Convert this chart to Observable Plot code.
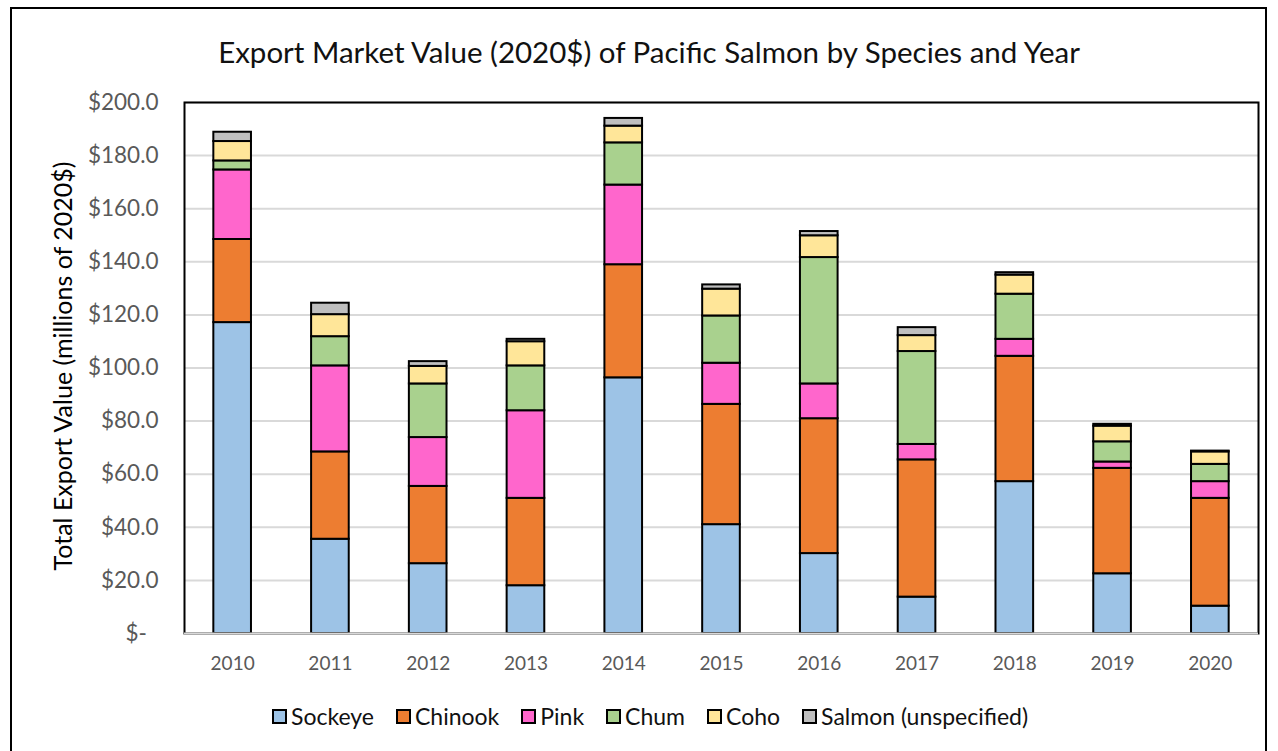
<!DOCTYPE html>
<html>
<head>
<meta charset="utf-8">
<script src="https://cdn.jsdelivr.net/npm/d3@7"></script>
<script src="https://cdn.jsdelivr.net/npm/@observablehq/plot@0.6"></script>
<style>
  html, body { margin: 0; padding: 0; background: #fff; }
  body { width: 1278px; height: 751px; position: relative; overflow: hidden; font-family: Lato, "Open Sans", sans-serif; }
  #border { position: absolute; left: 10px; top: 7px; width: 1257px; height: 760px; border: 2px solid #000; box-sizing: border-box; }
  #title { position: absolute; left: 20px; width: 1258px; top: 34px; text-align: center; font-size: 29.5px; color: #111; white-space: nowrap; }
  #ylabel { position: absolute; left: 62px; top: 366px; transform: translate(-50%, -50%) rotate(-90deg); font-size: 25px; color: #000; white-space: nowrap; }
  #chart { position: absolute; left: 0; top: 80px; }
  #legend { position: absolute; left: 272px; top: 702px; display: flex; align-items: center; font-size: 23px; color: #111; white-space: nowrap; }
  .item { display: flex; align-items: center; margin-right: 22px; }
  .sw { width: 11px; height: 11px; border: 2px solid #000; margin-right: 4px; }
</style>
</head>
<body>
<div id="border"></div>
<div id="title">Export Market Value (2020$) of Pacific Salmon by Species and Year</div>
<div id="ylabel">Total Export Value (millions of 2020$)</div>
<div id="chart"></div>
<div id="legend"></div>
<script>
const years = ["2010","2011","2012","2013","2014","2015","2016","2017","2018","2019","2020"];
const species = ["Sockeye","Chinook","Pink","Chum","Coho","Salmon (unspecified)"];
const colors = ["#9DC3E6","#ED7D31","#FF66CC","#A9D18E","#FFE699","#BFBFBF"];
const sockeye     = [117.1, 35.5, 26.3, 18.0, 96.3, 41.0, 30.1, 13.7, 57.2, 22.5, 10.3];
const chinook     = [31.3, 32.9, 29.1, 32.9, 42.6, 45.3, 50.8, 51.7, 47.2, 39.7, 40.6];
const pink        = [26.2, 32.4, 18.4, 33.0, 30.0, 15.5, 13.1, 5.8, 6.4, 2.4, 6.3];
const chum        = [3.4, 11.0, 20.2, 16.9, 15.9, 17.8, 47.6, 35.0, 17.0, 7.6, 6.5];
const coho        = [7.3, 8.3, 6.6, 9.1, 6.3, 10.1, 8.2, 6.0, 7.2, 5.9, 4.7];
const unspecified = [3.5, 4.3, 1.8, 0.9, 2.9, 1.6, 1.6, 3.0, 0.9, 0.7, 0.3];
const yTicks = [0, 20, 40, 60, 80, 100, 120, 140, 160, 180, 200];

const seriesValues = [sockeye, chinook, pink, chum, coho, unspecified];
const table = [];
years.forEach((year, i) => {
  species.forEach((s, j) => table.push({year, species: s, value: seriesValues[j][i]}));
});

const chart = Plot.plot({
  width: 1278,
  height: 620,
  marginTop: 22,
  marginBottom: 67,
  marginLeft: 184,
  marginRight: 20,
  style: {fontFamily: "Lato, 'Open Sans', sans-serif", background: "transparent", overflow: "visible"},
  x: {domain: years, paddingInner: 0.615, paddingOuter: 0.3, round: false, label: null},
  y: {domain: [0, 200], label: null},
  color: {domain: species, range: colors},
  marks: [
    Plot.gridY(yTicks.slice(1), {stroke: "#d9d9d9", strokeOpacity: 1, strokeWidth: 2}),
    Plot.barY(table, {x: "year", y: "value", fill: "species", stroke: "#000", strokeWidth: 2}),
    Plot.frame({stroke: "#000", strokeWidth: 2}),
    Plot.ruleY([0], {stroke: "#d9d9d9", strokeWidth: 2}),
    Plot.axisY(yTicks, {tickSize: 0, tickPadding: 26, fontSize: 22.5, color: "#595959", label: null,
      tickFormat: d => d === 0 ? "$-\u00a0\u00a0" : "$" + d.toFixed(1)}),
    Plot.axisX({tickSize: 0, tickPadding: 23, fontSize: 19, color: "#595959", label: null})
  ]
});
document.getElementById("chart").appendChild(chart);

const legend = document.getElementById("legend");
species.forEach((s, j) => {
  const item = document.createElement("div");
  item.className = "item";
  const sw = document.createElement("div");
  sw.className = "sw";
  sw.style.background = colors[j];
  const label = document.createElement("span");
  label.textContent = s;
  item.appendChild(sw);
  item.appendChild(label);
  legend.appendChild(item);
});
</script>
</body>
</html>
